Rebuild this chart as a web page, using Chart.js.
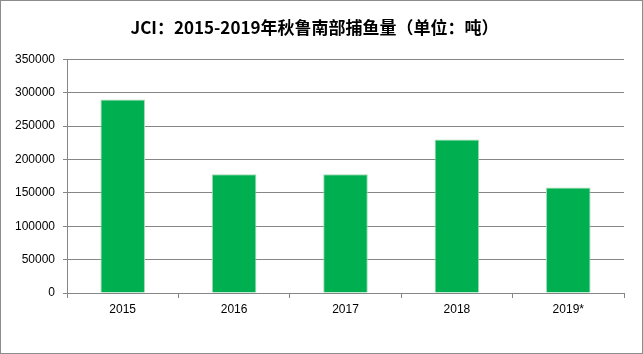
<!DOCTYPE html>
<html>
<head>
<meta charset="utf-8">
<script src="https://cdn.jsdelivr.net/npm/chart.js@4"></script>
<style>
  html, body { margin: 0; padding: 0; background: #fff; }
  #box {
    width: 643px; height: 354px; box-sizing: border-box;
    border: 1px solid #8c8c8c; background: #fff; position: relative;
  }
</style>
</head>
<body>
<div id="box"><canvas id="fishChart"></canvas></div>
<script>
// categories and values
const years = ['2015', '2016', '2017', '2018', '2019*'];
const catchTons = [290000, 178000, 178000, 230000, 158000];
const yMin = 0;
const yMax = 350000;
const yStep = 50000;
const titleText = 'JCI：2015-2019年秋鲁南部捕鱼量（单位：吨）';

const gridGrey = '#868686';
const tickFont = { family: "'Liberation Sans', Arial, sans-serif", size: 12 };

new Chart(document.getElementById('fishChart'), {
  type: 'bar',
  data: {
    labels: years,
    datasets: [{
      label: '捕鱼量',
      data: catchTons,
      backgroundColor: '#00B050',
      borderColor: '#a3d9b1',
      borderWidth: 1,
      barPercentage: 0.4,
      categoryPercentage: 1.0
    }]
  },
  options: {
    responsive: true,
    maintainAspectRatio: false,
    animation: false,
    layout: { padding: { left: 4, right: 18, top: 0, bottom: 30 } },
    plugins: {
      legend: { display: false },
      tooltip: { enabled: false },
      title: {
        display: true,
        text: titleText,
        color: '#000',
        font: { family: "'Noto Sans CJK SC', sans-serif", size: 17, weight: 'bold', lineHeight: 1.2 },
        padding: { top: 16, bottom: 22 }
      }
    },
    scales: {
      x: {
        grid: {
          display: true,
          drawOnChartArea: false,
          drawTicks: true,
          tickLength: 5,
          color: gridGrey,
          offset: true
        },
        border: { display: true, color: gridGrey, width: 1 },
        ticks: { color: '#000', font: tickFont, padding: 4, maxRotation: 0 },
        afterFit: (s) => { s.height = 30; }
      },
      y: {
        min: yMin,
        max: yMax,
        ticks: {
          stepSize: yStep,
          color: '#000',
          font: tickFont,
          padding: 8,
          callback: (v) => String(v)
        },
        grid: { color: gridGrey, tickLength: 4, drawTicks: true },
        border: { display: true, color: gridGrey, width: 1 },
        afterFit: (s) => { s.width = 62; }
      }
    }
  }
});
</script>
</body>
</html>
